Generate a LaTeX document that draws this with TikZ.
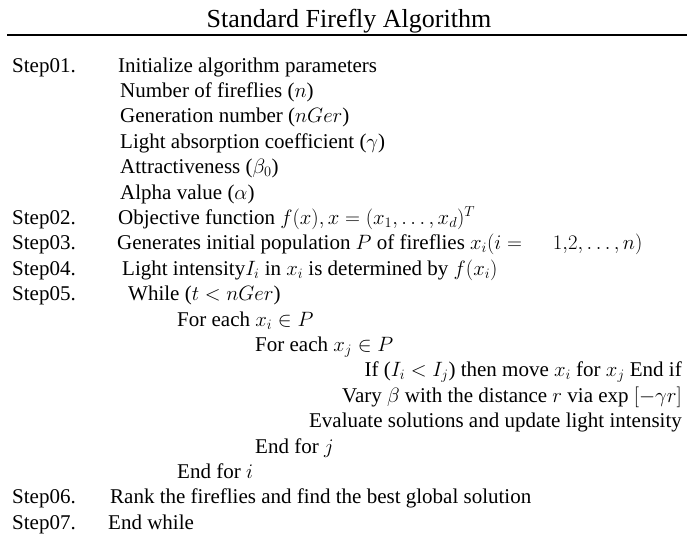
\documentclass[tikz,border=0pt]{standalone}
\usepackage{fontspec}
\setmainfont{Liberation Serif}
\begin{document}
\begin{tikzpicture}[x=1pt,y=-1pt,
  txt/.style={anchor=base west,inner sep=0pt,font=\fontsize{21}{25}\selectfont},
  rtxt/.style={anchor=base east,inner sep=0pt,font=\fontsize{21}{25}\selectfont},
  ttl/.style={anchor=base,inner sep=0pt,font=\fontsize{26}{30}\selectfont}]
\useasboundingbox (0,0) rectangle (699,539);
\def\L#1{{72+25.4*#1}}
\node[ttl] (title) at (349,27) {Standard Firefly Algorithm};
\coordinate (rl) at (7,35);
\coordinate (rr) at (687,35);
\draw[line width=2pt] (rl) -- (rr);
% step labels
\node[txt] (s1) at (12,\L{0}) {Step01.};
\node[txt] (s2) at (12,\L{6}) {Step02.};
\node[txt] (s3) at (12,\L{7}) {Step03.};
\node[txt] (s4) at (12,\L{8}) {Step04.};
\node[txt] (s5) at (12,\L{9}) {Step05.};
\node[txt] (s6) at (12,\L{17}) {Step06.};
\node[txt] (s7) at (12,\L{18}) {Step07.};
% content
\node[txt] (t1) at (118,\L{0}) {Initialize algorithm parameters};
\node[txt] (p1) at (120,\L{1}) {Number of fireflies ($n$)};
\node[txt] (p2) at (120,\L{2}) {Generation number ($nGer$)};
\node[txt] (p3) at (120,\L{3}) {Light absorption coefficient ($\gamma$)};
\node[txt] (p4) at (120,\L{4}) {Attractiveness ($\beta_0$)};
\node[txt] (p5) at (120,\L{5}) {Alpha value ($\alpha$)};
\node[txt] (t2) at (118,\L{6}) {Objective function $f(x),x=(x_1,\ldots,x_d)^T$};
\node[txt] (t3) at (117,\L{7}) {Generates initial population $P$ of fireflies $x_i(i=\hspace{1.2em}1{,}2,\ldots,n)$};
\node[txt] (t4) at (122,\L{8}) {Light intensity$I_i$ in $x_i$ is determined by $f(x_i)$};
\node[txt] (t5) at (128,\L{9}) {While ($t<nGer$)};
\node[txt] (fi) at (177,\L{10}) {For each $x_i\in P$};
\node[txt] (fj) at (255,\L{11}) {For each $x_j\in P$};
\node[rtxt] (ifl) at (682,\L{12}) {If ($I_i<I_j$) then move $x_i$ for $x_j$ End if};
\node[rtxt] (vary) at (682,\L{13}) {Vary $\beta$ with the distance $r$ via exp $[-\gamma r]$};
\node[rtxt] (eval) at (682,\L{14}) {Evaluate solutions and update light intensity};
\node[txt] (ej) at (255,\L{15}) {End for $j$};
\node[txt] (ei) at (177,\L{16}) {End for $i$};
\node[txt] (t6) at (110,\L{17}) {Rank the fireflies and find the best global solution};
\node[txt] (t7) at (108,\L{18}) {End while};
\end{tikzpicture}
\end{document}
